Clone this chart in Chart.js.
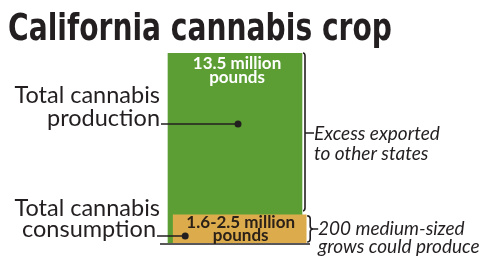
<!DOCTYPE html>
<html>
<head>
<meta charset="utf-8">
<script src="https://cdn.jsdelivr.net/npm/chart.js@4"></script>
<style>
  html, body { margin: 0; padding: 0; background: #ffffff; }
  #wrap { width: 501px; height: 267px; }
</style>
</head>
<body>
<div id="wrap"><canvas id="c" width="501" height="267"></canvas></div>
<script>
// ---- data ----
const title = 'California cannabis crop';
const categories = ['Total cannabis production', 'Total cannabis consumption'];
const productionValues = [13.5];          // million pounds
const consumptionValues = [2.0];          // drawn height (range 1.6-2.5)
const productionLabel = ['13.5 million', 'pounds'];
const consumptionLabel = ['1.6-2.5 million', 'pounds'];
const leftLabels = [['Total cannabis', 'production'], ['Total cannabis', 'consumption']];
const rightNotes = [['Excess exported', 'to other states'], ['200 medium-sized', 'grows could produce']];
const yMax = 13.5;

const GREEN = '#5c9e33';
const GOLD = '#dcab4b';
const INK = '#231f20';

const annotations = {
  id: 'annotations',
  afterDatasetsDraw(chart) {
    const ctx = chart.ctx;
    const y = chart.scales.y;
    const gMeta = chart.getDatasetMeta(1).data[0];
    const cMeta = chart.getDatasetMeta(0).data[0];
    const base = y.getPixelForValue(0);
    const pTop = y.getPixelForValue(productionValues[0]);
    const cTop = y.getPixelForValue(consumptionValues[0]);
    const gR = gMeta.x + gMeta.width / 2;
    const cL = cMeta.x - cMeta.width / 2, cR = cMeta.x + cMeta.width / 2;
    ctx.save();

    // title
    ctx.fillStyle = INK;
    ctx.textBaseline = 'alphabetic';
    ctx.textAlign = 'left';
    ctx.font = 'bold 38px "Liberation Sans Narrow", "DejaVu Sans Condensed", "Roboto", sans-serif';
    const tw = ctx.measureText(title).width;
    ctx.save();
    ctx.translate(8, 40);
    ctx.scale(384 / tw, 1);
    ctx.fillText(title, 0, 0);
    ctx.restore();

    // baseline
    ctx.strokeStyle = INK;
    ctx.lineWidth = 1.5;
    ctx.beginPath();
    ctx.moveTo(chart.chartArea.left, base + 1);
    ctx.lineTo(chart.chartArea.right, base + 1);
    ctx.stroke();

    // bar labels
    ctx.textAlign = 'center';
    ctx.font = 'bold 17px "Lato", "Open Sans", sans-serif';
    ctx.fillStyle = '#ffffff';
    ctx.fillText(productionLabel[0], gMeta.x + 2, pTop + 16);
    ctx.fillText(productionLabel[1], gMeta.x + 2, pTop + 30);
    ctx.fillStyle = '#2b2118';
    ctx.fillText(consumptionLabel[0], cMeta.x + 1, cTop + 13);
    ctx.fillText(consumptionLabel[1], cMeta.x + 1, cTop + 26);

    // left labels
    ctx.fillStyle = INK;
    ctx.textAlign = 'right';
    ctx.font = '23.5px "Lato", "Open Sans", sans-serif';
    ctx.fillText(leftLabels[0][0], 160, 103);
    ctx.fillText(leftLabels[0][1], 160, 126);
    ctx.fillText(leftLabels[1][0], 160, 216);
    ctx.fillText(leftLabels[1][1], 156, 237);

    // leader lines + dots
    ctx.lineWidth = 1.6;
    ctx.beginPath();
    ctx.moveTo(161, 124); ctx.lineTo(gMeta.x + 3, 124);
    ctx.moveTo(157, 236); ctx.lineTo(cL + 12, 236);
    ctx.stroke();
    ctx.beginPath(); ctx.arc(gMeta.x + 3, 124, 3.5, 0, Math.PI * 2); ctx.fill();
    ctx.beginPath(); ctx.arc(cL + 12, 236, 3.5, 0, Math.PI * 2); ctx.fill();

    // bracket for excess
    const bx = gR + 3;
    const bTop = pTop, bBot = cTop - 4;
    const bMid = (bTop + bBot) / 2 + 1;
    ctx.lineWidth = 1.6;
    ctx.beginPath();
    ctx.moveTo(bx - 2, bTop); ctx.quadraticCurveTo(bx, bTop, bx, bTop + 3);
    ctx.lineTo(bx, bBot - 3); ctx.quadraticCurveTo(bx, bBot, bx - 2, bBot);
    ctx.moveTo(bx, bMid); ctx.lineTo(bx + 9, bMid);
    ctx.stroke();

    // bracket for consumption
    const cx = cR + 3;
    const cbTop = cTop + 1, cbBot = base - 1;
    const cbMid = (cbTop + cbBot) / 2;
    ctx.beginPath();
    ctx.moveTo(cx - 2, cbTop); ctx.quadraticCurveTo(cx + 1, cbTop, cx + 1, cbTop + 3);
    ctx.lineTo(cx + 1, cbMid - 3); ctx.quadraticCurveTo(cx + 1, cbMid, cx + 4, cbMid);
    ctx.quadraticCurveTo(cx + 1, cbMid, cx + 1, cbMid + 3);
    ctx.lineTo(cx + 1, cbBot - 3); ctx.quadraticCurveTo(cx + 1, cbBot, cx - 2, cbBot);
    ctx.moveTo(cx + 4, cbMid); ctx.lineTo(cx + 9, cbMid);
    ctx.stroke();

    // right notes
    ctx.textAlign = 'left';
    ctx.font = 'italic 19px "Lato", "Open Sans", sans-serif';
    ctx.fillText(rightNotes[0][0], 314, 140);
    ctx.fillText(rightNotes[0][1], 314, 160);
    ctx.fillText(rightNotes[1][0], 318, 235);
    ctx.fillText(rightNotes[1][1], 318, 253);

    ctx.restore();
  }
};

new Chart(document.getElementById('c'), {
  type: 'bar',
  data: {
    datasets: [
      {
        label: categories[1],
        data: consumptionValues.map(v => ({ x: 0.5, y: v })),
        backgroundColor: GOLD,
        borderWidth: 0,
        barThickness: 133,
        grouped: false,
        xAxisID: 'x2',
        order: 0
      },
      {
        label: categories[0],
        data: productionValues.map(v => ({ x: 0.5, y: v })),
        backgroundColor: GREEN,
        borderWidth: 0,
        barThickness: 134,
        grouped: false,
        xAxisID: 'x',
        order: 1
      }
    ]
  },
  options: {
    responsive: false,
    animation: false,
    events: [],
    layout: { padding: { top: 53, bottom: 24, left: 160, right: 191 } },
    plugins: { legend: { display: false }, title: { display: false }, tooltip: { enabled: false } },
    scales: {
      x: { type: 'linear', min: 0, max: 1, display: false },
      x2: { type: 'linear', min: -0.047, max: 0.953, display: false },
      y: { min: 0, max: yMax, display: false }
    }
  },
  plugins: [annotations]
});
</script>
</body>
</html>
